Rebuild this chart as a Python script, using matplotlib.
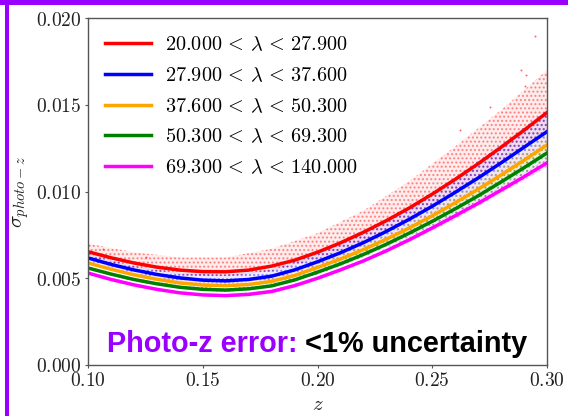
"""
Photo-z 误差随红移的变化 (按 richness λ 分组)
"""
import matplotlib
matplotlib.use('Agg')
import matplotlib.pyplot as plt
from matplotlib.patches import Rectangle
from matplotlib.ticker import FormatStrFormatter

plt.rcParams['mathtext.fontset'] = 'cm'
plt.rcParams['font.family'] = ['DejaVu Sans']

# 红移采样点
z = [0.10, 0.11, 0.12, 0.13, 0.14, 0.15, 0.16, 0.17, 0.18, 0.19, 0.20,
     0.21, 0.22, 0.23, 0.24, 0.25, 0.26, 0.27, 0.28, 0.29, 0.30]

# 各 λ 区间的拟合曲线
sig_1 = [0.00653, 0.00618, 0.00588, 0.00564, 0.00547, 0.00538, 0.00537, 0.00547, 0.00570, 0.00604, 0.00650,
         0.00704, 0.00765, 0.00832, 0.00905, 0.00985, 0.01070, 0.01160, 0.01255, 0.01353, 0.01455]
sig_2 = [0.00617, 0.00580, 0.00548, 0.00522, 0.00502, 0.00489, 0.00485, 0.00493, 0.00512, 0.00548, 0.00595,
         0.00647, 0.00705, 0.00770, 0.00840, 0.00915, 0.00995, 0.01078, 0.01165, 0.01255, 0.01345]
sig_3 = [0.00588, 0.00552, 0.00520, 0.00494, 0.00473, 0.00461, 0.00457, 0.00464, 0.00482, 0.00516, 0.00562,
         0.00611, 0.00665, 0.00725, 0.00790, 0.00860, 0.00935, 0.01013, 0.01095, 0.01180, 0.01268]
sig_4 = [0.00559, 0.00524, 0.00493, 0.00468, 0.00448, 0.00436, 0.00432, 0.00439, 0.00456, 0.00490, 0.00535,
         0.00583, 0.00637, 0.00696, 0.00760, 0.00828, 0.00900, 0.00975, 0.01055, 0.01137, 0.01222]
sig_5 = [0.00530, 0.00493, 0.00462, 0.00436, 0.00416, 0.00404, 0.00400, 0.00407, 0.00424, 0.00457, 0.00500,
         0.00548, 0.00600, 0.00658, 0.00722, 0.00790, 0.00860, 0.00932, 0.01008, 0.01085, 0.01165]

# 散点云的上下包络
zb = [0.10, 0.12, 0.14, 0.16, 0.18, 0.20, 0.22, 0.24, 0.26, 0.28, 0.30]
hi_1 = [0.0070, 0.0065, 0.0062, 0.0062, 0.0067, 0.0076, 0.0089, 0.0106, 0.0126, 0.0147, 0.0170]
lo_1 = [0.0062, 0.0056, 0.0052, 0.0051, 0.0054, 0.0061, 0.0071, 0.0084, 0.0099, 0.0116, 0.0134]
hi_2 = [0.0064, 0.0057, 0.0053, 0.0052, 0.0055, 0.0064, 0.0076, 0.0091, 0.0108, 0.0127, 0.0147]
lo_2 = [0.0060, 0.0053, 0.0048, 0.0047, 0.0049, 0.0057, 0.0067, 0.0080, 0.0094, 0.0110, 0.0127]
hi_3 = [0.0060, 0.0053, 0.0049, 0.0047, 0.0050, 0.0058, 0.0069, 0.0082, 0.0097, 0.0114, 0.0132]
lo_3 = [0.0058, 0.0051, 0.0046, 0.0045, 0.0047, 0.0055, 0.0065, 0.0077, 0.0091, 0.0106, 0.0123]
hi_4 = [0.0057, 0.0050, 0.0046, 0.0044, 0.0047, 0.0055, 0.0066, 0.0078, 0.0093, 0.0109, 0.0126]
lo_4 = [0.0055, 0.0048, 0.0044, 0.0042, 0.0045, 0.0052, 0.0062, 0.0074, 0.0087, 0.0102, 0.0118]
hi_5 = [0.0054, 0.0047, 0.0042, 0.0041, 0.0043, 0.0051, 0.0061, 0.0074, 0.0088, 0.0103, 0.0119]
lo_5 = [0.0052, 0.0045, 0.0041, 0.0039, 0.0041, 0.0049, 0.0059, 0.0071, 0.0084, 0.0099, 0.0114]

# 红色组的离群点
out_z = [0.100, 0.1065, 0.1254, 0.262, 0.2752, 0.2886, 0.2904, 0.2908, 0.2948]
out_s = [0.0069, 0.00667, 0.0062, 0.01354, 0.01487, 0.0170, 0.0161, 0.0167, 0.01896]

labels = [r'$20.000\,<\,\lambda\,<\,27.900$',
          r'$27.900\,<\,\lambda\,<\,37.600$',
          r'$37.600\,<\,\lambda\,<\,50.300$',
          r'$50.300\,<\,\lambda\,<\,69.300$',
          r'$69.300\,<\,\lambda\,<\,140.000$']
colors = ['red', 'blue', 'orange', 'green', 'magenta']
curves = [sig_1, sig_2, sig_3, sig_4, sig_5]
bands = [(lo_1, hi_1), (lo_2, hi_2), (lo_3, hi_3), (lo_4, hi_4), (lo_5, hi_5)]

fig = plt.figure(figsize=(5.68, 4.16), dpi=100)
ax = fig.add_axes([88 / 568, 1 - 365 / 416, 459 / 568, 347 / 416])

# 散点云 (用点状阴影近似)
for (lo, hi), c in zip(bands, colors):
    ax.fill_between(zb, lo, hi, facecolor=matplotlib.colors.to_rgba(c, 0.07),
                    edgecolor=matplotlib.colors.to_rgba(c, 0.4), hatch='....', linewidth=0)
ax.scatter(out_z, out_s, s=2, color='red', alpha=0.6, linewidths=0)

for sig, c, lab in zip(curves, colors, labels):
    ax.plot(z, sig, color=c, linewidth=2.5, label=lab)

ax.set_xlim(0.10, 0.30)
ax.set_ylim(0.0, 0.020)
ax.set_xticks([0.10, 0.15, 0.20, 0.25, 0.30])
ax.set_yticks([0.000, 0.005, 0.010, 0.015, 0.020])
ax.xaxis.set_major_formatter(FormatStrFormatter(r'$%.2f$'))
ax.yaxis.set_major_formatter(FormatStrFormatter(r'$%.3f$'))
ax.tick_params(labelsize=14, length=2.5, width=0.8, pad=2, colors='#555555', labelcolor='#222222')
for sp in ax.spines.values():
    sp.set_color('#555555')
    sp.set_linewidth(1.0)

ax.set_xlabel(r'$z$', fontsize=15, labelpad=3, color='#222222')
ax.set_ylabel(r'$\sigma_{photo-z}$', fontsize=15, labelpad=4, color='#222222')

ax.legend(loc='upper left', bbox_to_anchor=(0.0, 1.0), frameon=False, fontsize=14.6,
          handlelength=2.25, handletextpad=0.72, labelspacing=0.58, borderaxespad=0.45)

# 标注文字
t1 = ax.text(0.041, 0.037, 'Photo-z error:', transform=ax.transAxes, fontsize=20.8,
             fontweight='bold', family='Liberation Sans', color='#9900ff', va='baseline')
fig.canvas.draw()
bb = t1.get_window_extent()
x_next = ax.transAxes.inverted().transform((bb.x1 + 8, bb.y0))[0]
ax.text(x_next, 0.037, '<1% uncertainty', transform=ax.transAxes, fontsize=20.8,
        fontweight='bold', family='Liberation Sans', color='black', va='baseline')

# 紫色边框
fig.add_artist(Rectangle((0, 1 - 5 / 416), 1, 5 / 416, transform=fig.transFigure,
                         color='#9900ff', linewidth=0))
fig.add_artist(Rectangle((5 / 568, 0), 4 / 568, 1, transform=fig.transFigure,
                         color='#9900ff', linewidth=0))

plt.savefig('out.png', dpi=100)
plt.close()
